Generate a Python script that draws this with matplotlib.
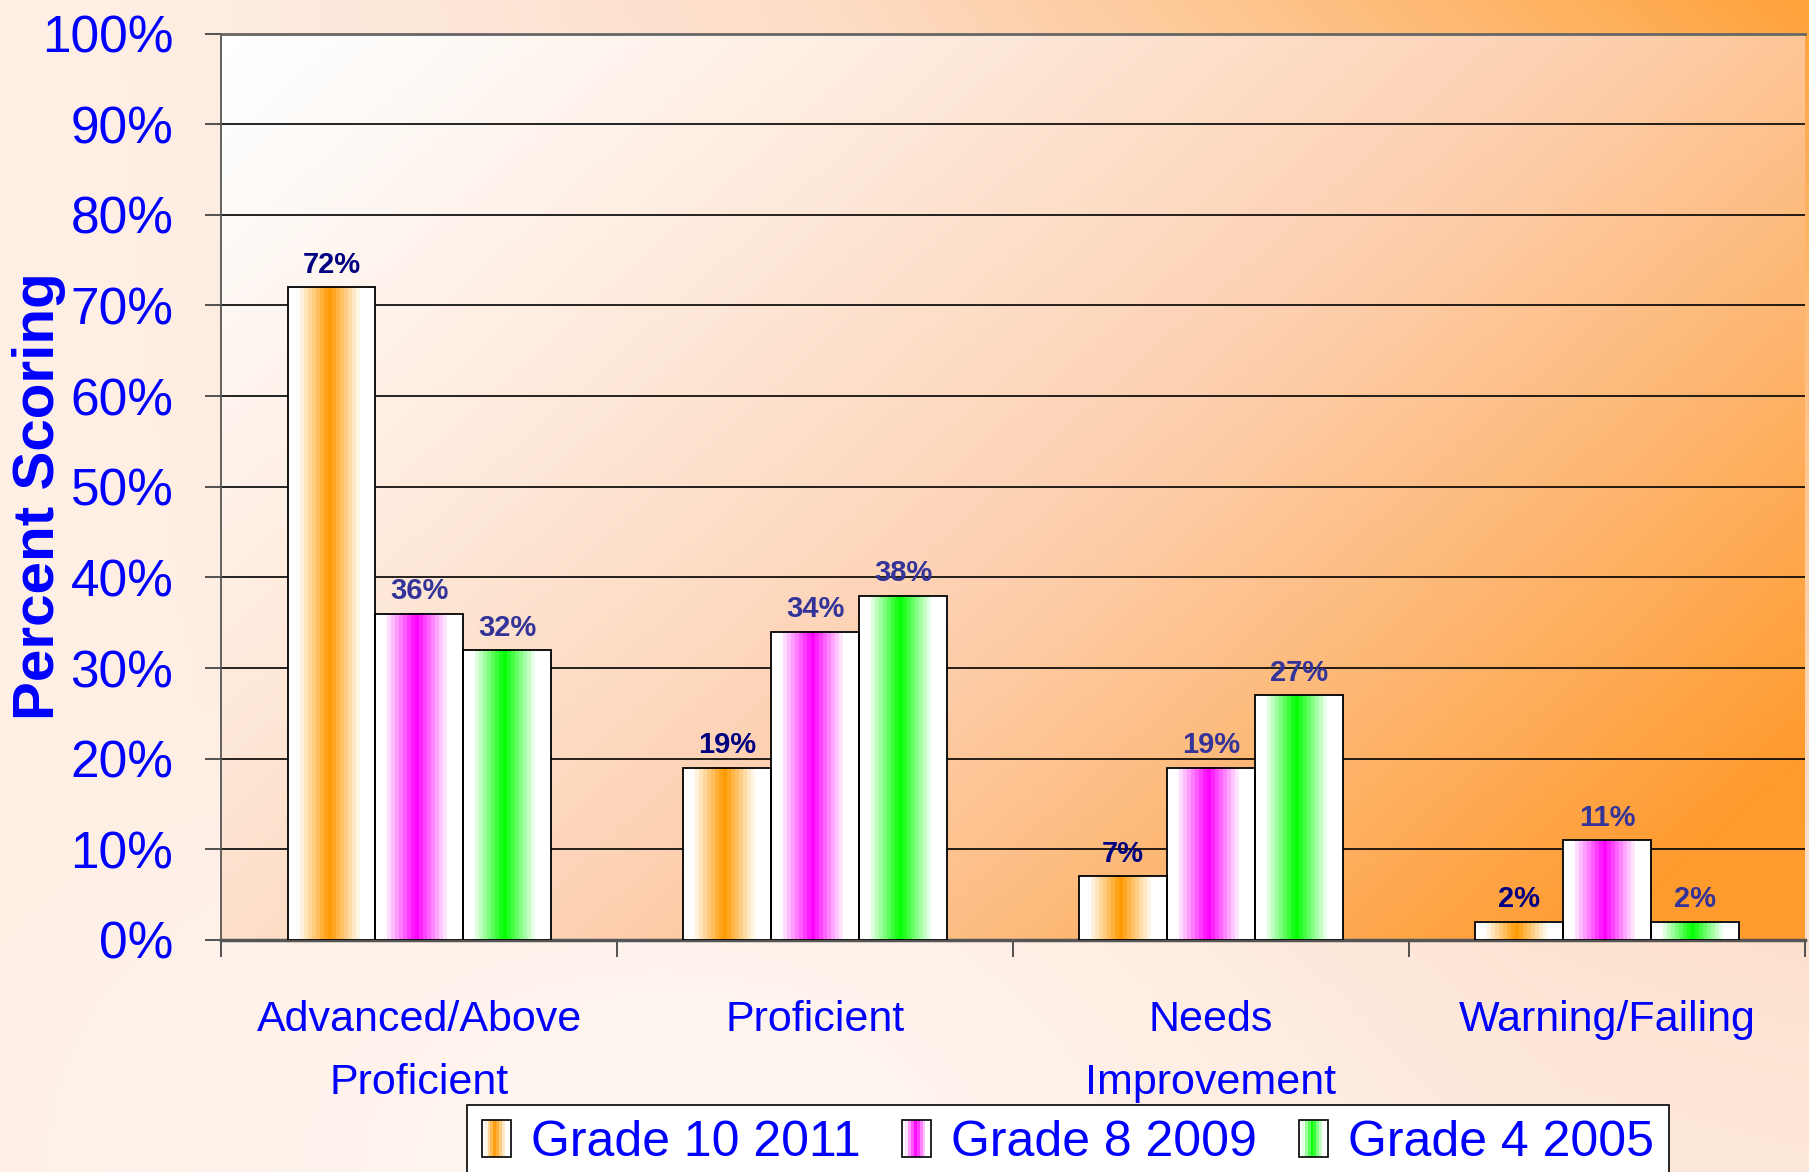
import numpy as np
import matplotlib
matplotlib.use("Agg")
import matplotlib.pyplot as plt
from matplotlib.colors import LinearSegmentedColormap, to_rgb
from matplotlib.legend_handler import HandlerBase
from matplotlib.patches import Rectangle

# data
categories = ["Advanced/Above\nProficient", "Proficient", "Needs\nImprovement", "Warning/Failing"]
series_names = ["Grade 10 2011", "Grade 8 2009", "Grade 4 2005"]
grade10 = [72, 19, 7, 2]
grade8 = [36, 34, 19, 11]
grade4 = [32, 38, 27, 2]
ytick_vals = [0, 10, 20, 30, 40, 50, 60, 70, 80, 90, 100]
ytick_labels = [f"{v}%" for v in ytick_vals]

series = [grade10, grade8, grade4]
series_colors = ["#FF9900", "#FF00FF", "#00FF00"]
label_colors = ["#000080", "#333399", "#333399"]
BLUE = "#0000FF"
FONT = ["Liberation Sans", "DejaVu Sans"]


def stripe(color, n=22):
    """white -> colour -> white band across a bar, stepped like the original"""
    u = (np.arange(n) + 0.5) / n
    k = np.clip(1 - np.abs(u - 0.47) / 0.36, 0, 1)
    c = np.array(to_rgb(color))
    return 1 - k[:, None] * (1 - c)


class GradientHandler(HandlerBase):
    def __init__(self, color):
        super().__init__()
        self.color = color

    def create_artists(self, legend, orig_handle, xdescent, ydescent,
                       width, height, fontsize, trans):
        cols = stripe(self.color, 10)
        n = len(cols)
        arts = []
        for i, c in enumerate(cols):
            arts.append(Rectangle((-xdescent + i * width / n, -ydescent), width / n, height,
                                  facecolor=c, edgecolor="none", transform=trans))
        arts.append(Rectangle((-xdescent, -ydescent), width, height, facecolor="none",
                              edgecolor="black", lw=1.2, transform=trans))
        return arts


fig = plt.figure(figsize=(18.09, 11.72), dpi=100)

# figure background
bg = fig.add_axes([0, 0, 1, 1], zorder=-10)
gx, gy = np.meshgrid(np.linspace(0, 1, 400), np.linspace(0, 1, 300))  # gy: 0 = top
t_fig = 0.22 + 0.78 * (gx ** 1.3) * ((1 - gy) ** 1.2)
spot = np.clip(np.hypot((gx - 0.42) / 0.45, (gy - 1.0) / 0.55), 0, 1)
t_fig = t_fig * (0.25 + 0.75 * spot) + 0.12 * gx * gy
fig_cmap = LinearSegmentedColormap.from_list("figbg", ["#FFFFFF", "#FDDCC6", "#FFA23A"])
bg.imshow(t_fig, cmap=fig_cmap, vmin=0, vmax=1, aspect="auto", extent=(0, 1, 0, 1), origin="upper")
bg.axis("off")

pos = [0.1224, 0.198, 0.8753, 0.7734]

# plot area background
pa = fig.add_axes(pos, zorder=-5)
px, py = np.meshgrid(np.linspace(0, 1, 400), np.linspace(0, 1, 300))
t_pa = np.clip(0.66 * px + 0.42 * py, 0, 1) ** 1.25
pa_cmap = LinearSegmentedColormap.from_list("pabg", ["#FFFFFF", "#FDD0B0", "#FF9A2C"])
pa.imshow(t_pa, cmap=pa_cmap, vmin=0, vmax=1, aspect="auto", extent=(0, 1, 0, 1), origin="upper")
pa.axis("off")

ax = fig.add_axes(pos)
ax.patch.set_visible(False)

x = np.arange(len(categories))
w = 0.222
for s, vals in enumerate(series):
    bars = ax.bar(x + (s - 1) * w, vals, w, facecolor="none", edgecolor="black",
                  lw=1.3, zorder=4)
    grad = stripe(series_colors[s])[None, :, :]
    for b in bars:
        x0, wd, h = b.get_x(), b.get_width(), b.get_height()
        ax.imshow(grad, extent=(x0, x0 + wd, 0, h), aspect="auto",
                  interpolation="nearest", zorder=3)
    ax.bar_label(bars, labels=[f"{v}%" for v in vals], padding=6, fontsize=21,
                 fontweight="bold", color=label_colors[s], family=FONT, zorder=5)

ax.set_xlim(-0.5, len(categories) - 0.5)
ax.set_ylim(0, 100)

ax.set_yticks(ytick_vals)
ax.set_yticklabels(ytick_labels, fontsize=37, color=BLUE, family=FONT)
ax.yaxis.grid(True, color="black", lw=1.2)
ax.set_axisbelow(True)
ax.tick_params(axis="y", direction="out", length=16 * 0.72, width=1.3, color="#444444", pad=23)

ax.set_xticks(x)
ax.set_xticklabels(categories, fontsize=31, color=BLUE, family=FONT, linespacing=1.75)
ax.set_xticks(np.arange(len(categories) + 1) - 0.5, minor=True)
ax.tick_params(axis="x", which="major", length=0, pad=43)
ax.tick_params(axis="x", which="minor", direction="out", length=12, width=1.3, color="#444444")

ax.set_ylabel("Percent Scoring", fontsize=42, fontweight="bold", color=BLUE, family=FONT)
ax.yaxis.set_label_coords(-0.098, 0.49)

ax.spines["right"].set_visible(False)
ax.spines["top"].set_color("#666666")
ax.spines["top"].set_linewidth(2)
ax.spines["left"].set_color("#555555")
ax.spines["left"].set_linewidth(1.3)
ax.spines["bottom"].set_color("#555555")
ax.spines["bottom"].set_linewidth(2.5)

proxies = [Rectangle((0, 0), 1, 1) for _ in series_names]
leg = fig.legend(proxies, series_names,
                 handler_map={p: GradientHandler(c) for p, c in zip(proxies, series_colors)},
                 loc="upper left", bbox_to_anchor=(0.258, 0.0, 0.6646, 0.0572), mode="expand",
                 ncol=3, prop={"family": FONT, "size": 36},
                 handlelength=0.58, handleheight=0.74, handletextpad=0.4, columnspacing=0.8,
                 borderpad=0.3, borderaxespad=0, fancybox=False, framealpha=1, edgecolor="black")
for txt in leg.get_texts():
    txt.set_color(BLUE)
leg.get_frame().set_linewidth(1.2)

fig.savefig("out.png", dpi=100)
